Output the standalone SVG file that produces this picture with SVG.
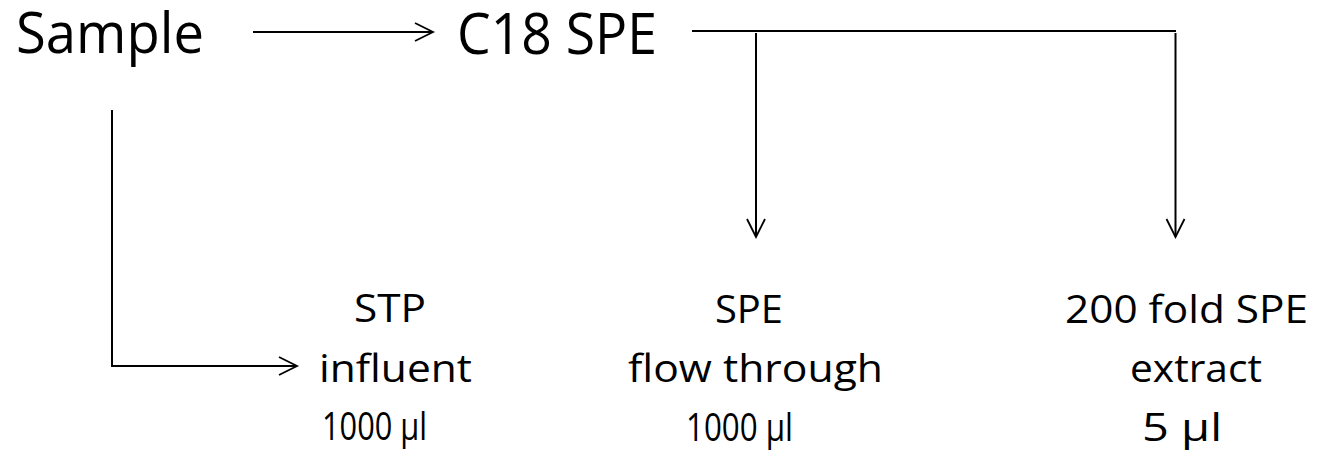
<svg xmlns="http://www.w3.org/2000/svg" width="1335" height="455" viewBox="0 0 1335 455">
  <style>
    .lbl { font-family: "Open Sans", "Liberation Sans", sans-serif; fill: #000; }
    .big { font-size: 57px; }
    .small { font-size: 38px; }
    .conn { fill: none; stroke: #000; stroke-width: 2; }
  </style>
  <defs>
    <marker id="chev" viewBox="-20 -11 22 22" refX="0" refY="0" markerWidth="22" markerHeight="22" markerUnits="userSpaceOnUse" orient="auto" overflow="visible">
      <path d="M -18 -9 L 0 0 L -18 9" fill="none" stroke="#000" stroke-width="1.8"/>
    </marker>
  </defs>
  <rect width="1335" height="455" fill="#fff"/>

  <g id="connectors">
    <path class="conn" d="M 253 32 L 433 32" marker-end="url(#chev)"/>
    <path class="conn" d="M 692 31 L 1176 31"/>
    <path class="conn" d="M 756 33 L 756 237" marker-end="url(#chev)"/>
    <path class="conn" d="M 1175.5 33 L 1175.5 237" marker-end="url(#chev)"/>
    <path class="conn" d="M 112 110 L 112 366 L 297 366" marker-end="url(#chev)"/>
  </g>

  <g id="sample">
    <text class="lbl big" x="16" y="53" textLength="188" lengthAdjust="spacingAndGlyphs">Sample</text>
  </g>
  <g id="c18-spe">
    <text class="lbl big" x="457" y="54" textLength="200" lengthAdjust="spacingAndGlyphs">C18 SPE</text>
  </g>
  <g id="stp-influent">
    <text class="lbl small" x="354" y="322" textLength="72" lengthAdjust="spacingAndGlyphs">STP</text>
    <text class="lbl small" x="319" y="382" textLength="153" lengthAdjust="spacingAndGlyphs">influent</text>
    <text class="lbl small" x="322" y="440" textLength="105" lengthAdjust="spacingAndGlyphs">1000 µl</text>
  </g>
  <g id="spe-flow-through">
    <text class="lbl small" x="715" y="323" textLength="68" lengthAdjust="spacingAndGlyphs">SPE</text>
    <text class="lbl small" x="628" y="382" textLength="255" lengthAdjust="spacingAndGlyphs">flow through</text>
    <text class="lbl small" x="686" y="441" textLength="107" lengthAdjust="spacingAndGlyphs">1000 µl</text>
  </g>
  <g id="spe-extract">
    <text class="lbl small" x="1065" y="323" textLength="243" lengthAdjust="spacingAndGlyphs">200 fold SPE</text>
    <text class="lbl small" x="1130" y="382" textLength="132" lengthAdjust="spacingAndGlyphs">extract</text>
    <text class="lbl small" x="1142" y="441" textLength="80" lengthAdjust="spacingAndGlyphs">5 µl</text>
  </g>
</svg>
